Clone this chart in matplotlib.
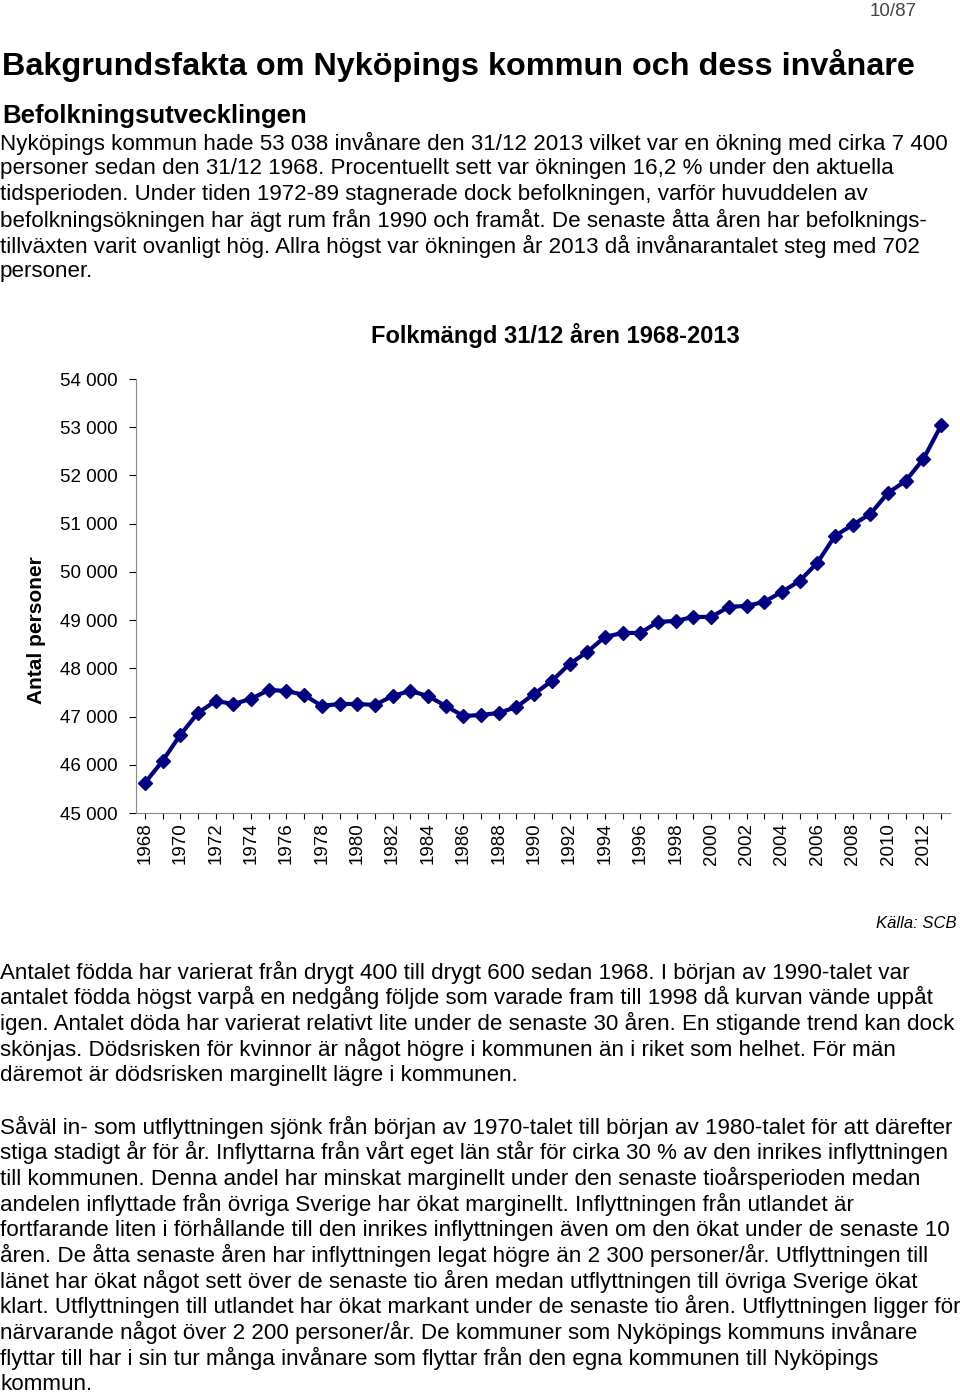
import matplotlib.pyplot as plt
from matplotlib.ticker import FuncFormatter

plt.rcParams['font.family'] = 'Liberation Sans'

years = list(range(1968, 2014))
population = [45622, 46079, 46618, 47075, 47324, 47261, 47365, 47552, 47531, 47448,
              47220, 47261, 47261, 47241, 47427, 47531, 47427, 47220, 47012, 47033,
              47075, 47199, 47469, 47739, 48091, 48340, 48651, 48734, 48734, 48963,
              48983, 49066, 49066, 49274, 49295, 49378, 49585, 49813, 50187, 50747,
              50975, 51203, 51639, 51888, 52344, 53038]

intro_lines = [
    "Nyköpings kommun hade 53 038 invånare den 31/12 2013 vilket var en ökning med cirka 7 400",
    "personer sedan den 31/12 1968. Procentuellt sett var ökningen 16,2 % under den aktuella",
    "tidsperioden. Under tiden 1972-89 stagnerade dock befolkningen, varför huvuddelen av",
    "befolkningsökningen har ägt rum från 1990 och framåt. De senaste åtta åren har befolknings-",
    "tillväxten varit ovanligt hög. Allra högst var ökningen år 2013 då invånarantalet steg med 702",
    "personer.",
]
para2 = [
    "Antalet födda har varierat från drygt 400 till drygt 600 sedan 1968. I början av 1990-talet var",
    "antalet födda högst varpå en nedgång följde som varade fram till 1998 då kurvan vände uppåt",
    "igen. Antalet döda har varierat relativt lite under de senaste 30 åren. En stigande trend kan dock",
    "skönjas. Dödsrisken för kvinnor är något högre i kommunen än i riket som helhet. För män",
    "däremot är dödsrisken marginellt lägre i kommunen.",
]
para3 = [
    "Såväl in- som utflyttningen sjönk från början av 1970-talet till början av 1980-talet för att därefter",
    "stiga stadigt år för år. Inflyttarna från vårt eget län står för cirka 30 % av den inrikes inflyttningen",
    "till kommunen. Denna andel har minskat marginellt under den senaste tioårsperioden medan",
    "andelen inflyttade från övriga Sverige har ökat marginellt. Inflyttningen från utlandet är",
    "fortfarande liten i förhållande till den inrikes inflyttningen även om den ökat under de senaste 10",
    "åren. De åtta senaste åren har inflyttningen legat högre än 2 300 personer/år. Utflyttningen till",
    "länet har ökat något sett över de senaste tio åren medan utflyttningen till övriga Sverige ökat",
    "klart. Utflyttningen till utlandet har ökat markant under de senaste tio åren. Utflyttningen ligger för",
    "närvarande något över 2 200 personer/år. De kommuner som Nyköpings kommuns invånare",
    "flyttar till har i sin tur många invånare som flyttar från den egna kommunen till Nyköpings",
    "kommun.",
]

W, H = 960, 1394
fig = plt.figure(figsize=(9.6, 13.94), dpi=100)


def put(x, y, s, **kw):
    fig.text(x / W, 1 - y / H, s, va='center', **kw)


put(917, 11, "10/87", ha='right', fontsize=13.5, color='#444444')
put(2, 66, "Bakgrundsfakta om Nyköpings kommun och dess invånare", fontsize=23.3, fontweight='bold')
put(2, 116, "Befolkningsutvecklingen", fontsize=18.5, fontweight='bold')
for i, s in enumerate(intro_lines):
    put(0, 143 + i * 25.8, s, fontsize=16.1)
for i, s in enumerate(para2):
    put(0, 972 + i * 25.8, s, fontsize=16.1)
for i, s in enumerate(para3):
    put(0, 1127 + i * 25.7, s, fontsize=16.1)
put(555, 335, "Folkmängd 31/12 åren 1968-2013", ha='center', fontsize=17, fontweight='bold')
put(957, 924, "Källa: SCB", ha='right', fontsize=12, style='italic')

ax = fig.add_axes([136 / W, 1 - 813 / H, 814 / W, 434 / H])
ax.plot(years, population, color='#000080', lw=3, marker='D', markersize=7)
ax.set_ylim(45000, 54000)
ax.set_xlim(1967.5, 2013.5)
ax.set_yticks(range(45000, 54001, 1000))
ax.yaxis.set_major_formatter(FuncFormatter(lambda v, p: f"{int(v):,}".replace(',', ' ')))
ax.set_xticks(years)
ax.set_xticklabels([str(y) if (y - 1968) % 2 == 0 else '' for y in years], rotation=90, fontsize=13.5)
ax.tick_params(axis='y', labelsize=13.5, pad=8, length=5)
ax.tick_params(axis='x', length=4, pad=3)
for sp in ['top', 'right']:
    ax.spines[sp].set_visible(False)
ax.spines['left'].set_color('#888888')
ax.spines['bottom'].set_color('#888888')
fig.text(37 / W, 1 - 630 / H, "Antal personer", rotation=90, ha='center', va='center',
         fontsize=15, fontweight='bold')

fig.savefig('out.png', dpi=100)
